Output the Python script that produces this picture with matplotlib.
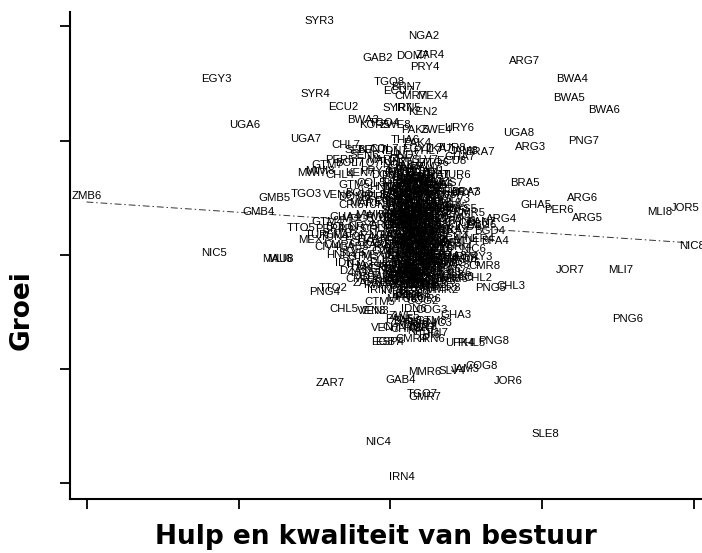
import matplotlib
matplotlib.use("Agg")
import matplotlib.pyplot as plt

outer_codes = ["SYR3","NGA2","GAB2","DOM7","ZAR4","PRY4","ARG7","BWA4","BWA5","BWA6","EGY3","SYR4",
 "ECU2","TGO8","ECU7","BRN7","CMR7","MEX4","SYR7","IRN5","KEN2","BWA3","KOR5","TGO4",
 "ZWE8","PAK5","ZWE4","URY6","UGA6","UGA7","UGA8","ARG3","PNG7","CHL7","THA6","PAK4",
 "BRA5","ARG6","GHA5","PER6","ARG5","MLI8","JOR5","ZMB6","GMB5","GMB4","TGO3","TTO5",
 "NIC5","MAU8","MLI6","NIC8","JOR7","MLI7","PNG6","PNG4","CHL5","PNG8","ZAR7","GAB4",
 "MMR6","SLV4","JAM3","COG8","JOR6","TGO7","GMR7","NIC4","IRN4","SLE8","CMR8","CHL2",
 "PNG5","CHL3","HND8","MMR2","GHA3","PRY6","COG2","TTO2","CTM5","VEN3","VEN8","IRN6",
 "COG3","IDN6","UPK4","PHL5","ESP4","EGB7","ZWE5","TUR7","VEN7","CMR4","PER8","ARG4",
 "MEX7","PAN7","GTM4"]
outer_x = [-70,34,-12,23,41,35,135,183,179,215,-173,-74,
 -46,0,9,17,21,43,8,18,33,-26,-15,-5,
 6,26,47,70,-145,-84,129,141,194,-44,16,28,
 135,193,146,169,198,270,296,-303,-115,-131,-83,-88,
 -176,-112,-110,303,181,231,238,-65,-46,104,-59,11,
 35,62,76,92,119,33,35,-11,12,156,95,88,
 101,121,72,52,66,19,33,-56,-10,-15,-18,42,
 42,24,70,82,0,-3,15,32,-4,22,56,112,
 -76,92,-62]
outer_y = [234,219,197,199,200,188,194,176,157,145,176,161,
 148,173,164,168,159,159,147,147,143,135,130,132,
 130,125,125,127,130,116,122,108,114,110,115,112,
 72,57,50,45,37,43,47,59,57,43,61,27,
 2,-4,-4,9,-15,-15,-64,-37,-54,-86,-128,-125,
 -117,-116,-114,-111,-126,-139,-142,-187,-222,-179,-11,-23,
 -33,-31,-4,-35,-60,-42,-46,-33,-47,-56,-56,-84,
 -55,-54,-88,-88,-87,-87,-61,-73,-73,-84,-33,36,
 15,33,33]

mid_codes = ["SEN7","BEN7","SEN6","COL7","IDN7","HND7","EGY7","PHL7","LKA7","TUR8","JAM8","BRA7",
 "PER5","GTM7","BOL7","TTO7","MAR7","TUN7","CRI7","ETH7","SLV7","ECU8","GHA7","MWI7",
 "MWI8","CHL4","KEN7","PRY7","DOM5","IND7","PAK7","BGD7","ZMB7","TUR6","GTM5","COL5",
 "HND5","NIC7","CIV7","MDG7","TZA7","GHA6","MYS7","BOL5","PER7","BGD5","THA7","KOR7",
 "IDN5","SLE7","BRA6","URY7","BRA3","SLV3","VEN6","DOM8","COL3","CRI5","MAR5","TUN5",
 "EGY5","KEN5","ETH5","IND5","LKA5","PAK6","PHL6","THA5","MYS5","ZMB5","TZA5","SEN5",
 "MLI5","NER5","BFA5","TGO5","CIV5","CMR5","GHA4","MDG5","MWI5","RWA5","UGA5","HTI5",
 "JAM5","DOM6","GTM6","HND6","SLV6","CRI6","PAN6","COL6","ECU6","PER4","BOL6","PRY5",
 "URY5","CHL6","ARG2","MEX5","BRA4","IDN4","THA4","MYS4","PHL4","KOR4","LKA4","IND4",
 "BGD4","TUR5","TUN4","MAR4","EGY4","DZA5","NGA5","KEN4","TZA4","ZMB4","ZWE6","BWA7",
 "MWI4","MDG4","SEN4","MLI4","NER4","BFA4","CIV4","CMR6","GAB5","COG5","ZAR5","RWA4",
 "ETH6","UGA4","HTI4","JAM4","TTO4","GUY5","PAN4","CRI4","NIC6","HND4","SLV5","GTM3",
 "MEX6","COL4","VEN4","ECU4","ECU5","BOL4","PER3","CHL3X","ARG8","BRA8","URY4","PRY3",
 "IDN3","THA3","MYS3","PHL3","KOR3","LKA3","IND3","PAK3","BGD3","TUR4","TUN3","MAR3",
 "EGY6","DZA6","NGA6","KEN3","TZA6","ZMB3","MWI6","MDG6","SEN3","MLI3","NER6","BFA6",
 "CIV6","CMR3","GHA8","SLE5","LBR3","GMB3","GIN6","TGO6","BEN5","NGA7","GAB6","COG6",
 "ZAR6","RWA6","BDI5","SOM4","SDN5","SDN6","JOR4","SYR5","SYR6","YEM6","IRN7","IND8",
 "PAK8","BGD8","LKA8","THA8","MYS8","PHL8","IDN8","KOR6","CHN7","CHN8","VNM8","NPL7",
 "FJI6","FJI7","PAN5","PAN8","CRI8","SLV8","GTM8","NIC3","HND3","DOM4","JAM6","JAM7",
 "TTO6","BRB5","GUY6","SUR7","MEX8","COL8","VEN5","ECU3","BOL8","CHL8","URY8","PRY8",
 "TUN6","TUN8","MAR6","MAR8","EGY8","DZA7","NGA8","KEN6","KEN8","TZA8","UGA3","ETH8",
 "MWI3","MDG8","SEN8","MLI2","NER7","BFA8","CIV8","CMR2","GHA2","SLE4","BEN8","BEN4"]
mid_x = [-30,-18,-25,-5,5,15,28,38,50,62,75,90,
 -50,-62,-40,-22,-8,3,12,22,35,62,70,-78,
 -70,-50,-30,-15,-2,8,20,32,45,67,-35,-18,
 -5,5,15,25,35,48,58,-30,-15,5,15,25,
 38,48,60,75,76,67,-52,-35,-18,-38,-25,-12,
 0,10,20,30,40,50,58,65,72,6,14,22,
 32,42,52,60,68,80,-45,-32,-20,-8,4,12,
 20,28,36,44,52,60,72,84,92,-60,-50,-38,
 -26,-14,-4,8,16,24,32,40,48,56,66,78,
 100,-70,-55,-42,-30,-18,-6,4,12,20,28,36,
 44,54,64,76,90,105,-62,-50,-36,-24,-12,0,
 8,16,24,32,40,48,58,70,84,-48,-38,-26,
 -14,-3,6,14,22,30,38,46,54,62,74,88,
 -42,-30,-18,-6,4,12,20,28,36,44,54,64,
 76,-36,-24,-12,0,8,16,24,32,40,48,58,
 70,-28,-16,-4,6,14,22,30,38,46,56,68,
 -22,-10,2,10,18,26,34,42,52,64,-10,4,
 14,24,34,44,12,20,28,36,8,16,24,32,
 40,48,10,18,26,34,42,50,14,22,30,38,
 46,6,12,20,28,36,44,52,60,10,18,26,
 34,42,50,16,24,32,8,40,20,28,12,36,
 30,18,26,34,22,14,38,10,46,24,30,16]
mid_y = [105,105,100,106,104,100,106,104,106,107,104,103,
 95,90,92,92,95,93,96,92,95,94,98,82,
 84,80,82,84,80,82,85,82,80,80,70,72,
 68,71,68,72,69,70,72,62,58,60,62,58,
 62,59,63,62,63,56,60,58,60,50,52,50,
 54,52,55,50,53,50,52,48,46,44,46,42,
 44,42,46,44,40,42,38,36,40,38,36,40,
 38,34,36,38,34,36,34,32,30,26,28,26,
 28,26,30,28,26,28,24,26,30,26,24,28,
 24,20,18,20,18,16,20,18,20,16,18,20,
 14,16,18,14,16,14,8,10,8,12,10,8,
 10,12,8,12,6,8,10,8,6,0,2,-2,
 0,4,-1,2,0,3,-2,1,-3,-1,-2,-2,
 -8,-10,-12,-8,-10,-12,-8,-10,-12,-8,-6,-10,
 -8,-16,-18,-14,-16,-20,-16,-18,-14,-18,-16,-14,
 -18,-24,-22,-26,-24,-20,-26,-22,-24,-20,-24,-22,
 -28,-30,-28,-26,-30,-26,-30,-28,-26,-24,-35,-36,
 -34,-36,-33,-30,-44,-42,-40,-44,-72,-74,-68,-76,
 -80,-78,-64,-66,-70,-72,-66,-68,64,74,78,88,
 92,56,86,88,76,66,70,60,-20,40,46,32,
 22,18,12,-6,-16,-28,90,66,74,54,44,34,
 24,14,4,-4,-14,-22,-32,30,10,-10,-30,-40]

core_codes = ["AUS1","BEL1","CAN1","DNK1","ESP1","FIN1","FRA1","GBR1","GRC1","IRL1","ITA1","JPN1",
 "NLD1","NOR1","NZL1","PRT1","SWE1","USA1","AUT1","CHE1","ALB7","ARM7","AZE7","BLR7",
 "BGR7","HRV7","CZE7","EST7","GEO7","HUN7","KAZ7","KGZ7","LVA7","LTU7","MDA7","POL7",
 "ROM7","RUS7","SVK7","SVN7","TJK7","UKR7","UZB7","MNG7","ALB8","ARM8","AZE8","BLR8",
 "BGR8","HRV8","CZE8","EST8","GEO8","HUN8","KAZ8","KGZ8","LVA8","LTU8","MDA8","POL8",
 "ROM8","RUS8","SVK8","SVN8","TJK8","UKR8","UZB8","MNG8","ALB6","ARM6","BGR6","HUN6",
 "POL6","ROM6","MNG6","LAO6","LAO7","LAO8","KHM7","KHM8","AGO6","AGO7","AGO8","MOZ6",
 "MOZ7","MOZ8","NAM6","NAM7","NAM8","LSO5","LSO6","LSO7","LSO8","SWZ5","SWZ6","SWZ7",
 "MRT5","MRT6","MRT7","MRT8","TCD5","TCD6","TCD7","TCD8","CAF5","CAF6","CAF7","CAF8",
 "GIN7","GIN8","GNB6","GNB7","GNB8","BDI6","BDI7","BDI8","MAU5","MAU6","MAU7","OMN6",
 "OMN7","OMN8","LBN7","LBN8","BOL3","BOL2","TUN2","MAR2","EGY2","KEN1","THA2","IDN2"]
core_x = [12,28,40,18,6,34,46,22,10,30,42,16,
 26,38,8,48,20,32,14,44,10,24,36,6,
 18,30,42,12,26,38,50,16,8,34,22,46,
 14,28,40,6,20,32,44,10,24,36,18,48,
 8,30,42,14,26,12,38,22,46,6,34,18,
 28,10,40,24,16,44,32,8,20,36,12,48,
 26,6,38,18,30,42,14,22,10,46,34,8,
 24,40,16,30,12,44,20,36,6,28,48,18,
 10,34,42,22,14,26,38,8,46,20,32,12,
 24,40,16,6,30,44,18,36,10,50,26,14,
 38,22,32,8,42,18,28,12,48,24,6,36]
core_y = [83,82,84,78,79,77,80,76,74,75,73,71,
 70,69,68,72,66,65,64,67,62,61,63,59,
 58,60,57,56,55,54,58,52,53,51,50,49,
 48,47,46,45,44,43,47,42,41,40,39,43,
 37,38,36,35,34,33,32,31,30,29,28,36,
 27,26,25,24,23,22,21,20,19,18,17,25,
 16,15,14,13,12,11,10,9,8,7,6,5,
 4,3,2,1,0,-1,-3,-4,-5,-2,6,34,
 -6,-7,-3,-9,-11,-13,-9,-15,-5,-17,-19,-21,
 -23,-12,-25,-14,-18,-10,-27,-22,-20,-8,-31,-29,
 46,71,60,37,15,54,64,30,41,10,67,23]

line_x = [-303, 303]
line_y = [53, 12]
xticks = [-303, -151, 0, 152, 304]
yticks = [-228, -114, 0, 114, 229]

fig = plt.figure(figsize=(7.02, 5.53), dpi=100)
ax = fig.add_axes([70/702, 1-499/553, 632/702, 487/553])
ax.set_xlim(-319.5, 312.5)
ax.set_ylim(-244, 243)

ax.plot(line_x, line_y, color="#333333", lw=0.7, ls=(0, (7, 3, 1.5, 3)), zorder=1)

for c, x, y in zip(outer_codes + mid_codes + core_codes, outer_x + mid_x + core_x,
                   outer_y + mid_y + core_y, strict=True):
    ax.text(x, y, c, fontsize=8.2, family="Liberation Sans", ha="center", va="center",
            color="black", clip_on=True)

ax.set_xticks(xticks)
ax.set_yticks(yticks)
ax.set_xticklabels([])
ax.set_yticklabels([])
ax.tick_params(axis="both", length=7, width=1.3, direction="out")
for s in ["top", "right"]:
    ax.spines[s].set_visible(False)
for s in ["left", "bottom"]:
    ax.spines[s].set_linewidth(1.5)

fig.text(376/702, 1-537/553, "Hulp en kwaliteit van bestuur", fontsize=19, fontweight="bold",
         family="DejaVu Sans", ha="center", va="center")
fig.text(22/702, 1-310/553, "Groei", fontsize=19, fontweight="bold", family="DejaVu Sans",
         rotation=90, ha="center", va="center")

fig.savefig("out.png", dpi=100)
